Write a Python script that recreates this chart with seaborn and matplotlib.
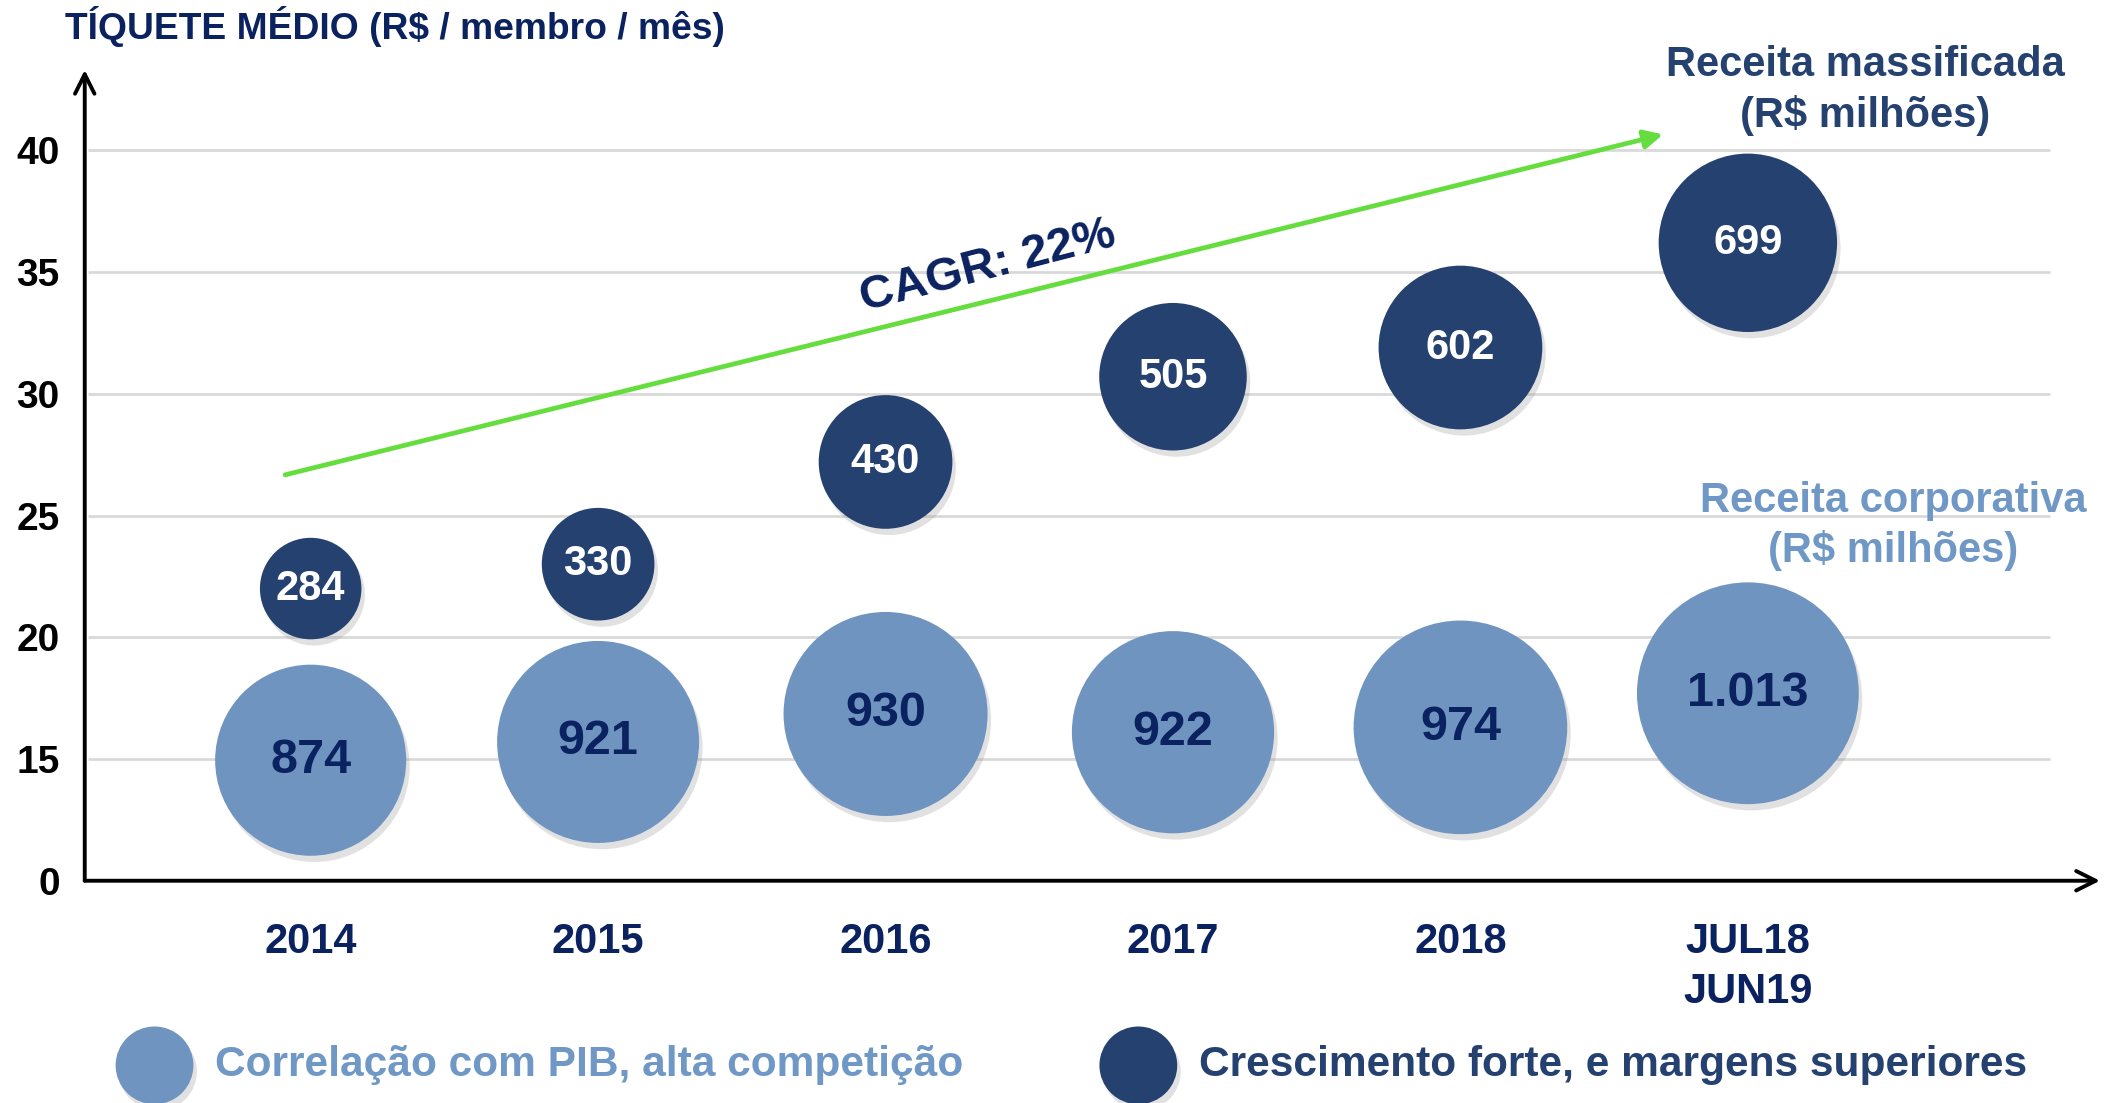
import matplotlib
matplotlib.use("Agg")
import matplotlib.pyplot as plt
import matplotlib.patheffects as pe
import seaborn as sns
import pandas as pd

# ---------------- data ----------------
periods = ["2014", "2015", "2016", "2017", "2018", "JUL18\nJUN19"]
massificada_receita = [284, 330, 430, 505, 602, 699]
massificada_ticket = [22.0, 23.0, 27.2, 30.7, 31.9, 36.2]
massificada_labels = ["284", "330", "430", "505", "602", "699"]
corporativa_receita = [874, 921, 930, 922, 974, 1013]
corporativa_ticket = [14.95, 15.7, 16.85, 16.1, 16.3, 17.7]
corporativa_labels = ["874", "921", "930", "922", "974", "1.013"]
y_grid_values = [15, 20, 25, 30, 35, 40]
y_tick_labels = ["0", "15", "20", "25", "30", "35", "40"]
axis_base = 10  # broken axis: bottom line is labelled "0"
cagr_text = "CAGR: 22%"
title_text = "TÍQUETE MÉDIO (R$ / membro / mês)"
massificada_title = "Receita massificada\n(R$ milhões)"
corporativa_title = "Receita corporativa\n(R$ milhões)"
legend_corporativa = "Correlação com PIB, alta competição"
legend_massificada = "Crescimento forte, e margens superiores"

# ---------------- style ----------------
DARK = "#254170"
LIGHT = "#6F94C0"
NAVY = "#0B2260"
GREEN = "#66DD3F"
GRID = "#D9D9D9"

sns.set_theme(style="white")
plt.rcParams["font.family"] = ["Liberation Sans", "DejaVu Sans"]
plt.rcParams["font.weight"] = "bold"

fig = plt.figure(figsize=(21.08, 11.03), dpi=100)
ax = fig.add_axes([0.0402, 0.2015, 0.9560, 0.7351])
ax.set_xlim(-0.786, 6.225)
ax.set_ylim(axis_base, 43.3)
for s in ax.spines.values():
    s.set_visible(False)

shadow = [pe.SimplePatchShadow(offset=(2.5, -4.5), shadow_rgbFace="#8a8a8a", alpha=0.25), pe.Normal()]

# grid lines
ax.hlines(y_grid_values, -0.776, 6.052, color=GRID, lw=2.0, zorder=0)

# axes arrows
ax.annotate("", xy=(0, 1), xytext=(0, 0), xycoords="axes fraction",
            arrowprops=dict(arrowstyle="->", lw=2.8, color="black", mutation_scale=35,
                            shrinkA=0, shrinkB=0), zorder=5)
ax.annotate("", xy=(1, 0), xytext=(0, 0), xycoords="axes fraction",
            arrowprops=dict(arrowstyle="->", lw=2.8, color="black", mutation_scale=35,
                            shrinkA=0, shrinkB=0), zorder=5)

x_pos = list(range(len(periods)))
df_m = pd.DataFrame({"x": x_pos, "y": massificada_ticket, "receita": massificada_receita})
df_c = pd.DataFrame({"x": x_pos, "y": corporativa_ticket, "receita": corporativa_receita})

sns.scatterplot(data=df_c, x="x", y="y", size="receita", sizes=(18927, 25500),
                size_norm=(min(corporativa_receita), max(corporativa_receita)),
                color=LIGHT, linewidth=0, legend=False, ax=ax, zorder=3)
sns.scatterplot(data=df_m, x="x", y="y", size="receita", sizes=(5342, 16500),
                size_norm=(min(massificada_receita), max(massificada_receita)),
                color=DARK, linewidth=0, legend=False, ax=ax, zorder=3)
for coll in ax.collections:
    coll.set_path_effects(shadow)

for x, y, t in zip(x_pos, massificada_ticket, massificada_labels):
    ax.text(x, y, t, ha="center", va="center", fontsize=30, fontweight="bold",
            color="white", zorder=4)
for x, y, t in zip(x_pos, corporativa_ticket, corporativa_labels):
    ax.text(x, y, t, ha="center", va="center", fontsize=35, fontweight="bold",
            color=NAVY, zorder=4)

# CAGR arrow and label
ax.annotate("", xy=(4.705, 40.65), xytext=(-0.089, 26.67),
            arrowprops=dict(arrowstyle="-|>", color=GREEN, lw=3.4, mutation_scale=28,
                            shrinkA=0, shrinkB=0), zorder=2)
ax.text(2.357, 35.24, cagr_text, rotation=14.5, rotation_mode="anchor",
        ha="center", va="center", fontsize=34, fontweight="bold", color=NAVY)

# ticks
ax.set_xticks(x_pos)
ax.set_xticklabels(periods, fontsize=30, fontweight="bold", color=NAVY, linespacing=1.3)
ax.set_yticks([axis_base] + y_grid_values)
ax.set_yticklabels(y_tick_labels, fontsize=28, fontweight="bold", color="black")
ax.tick_params(axis="x", length=0, pad=30)
ax.tick_params(axis="y", length=0, pad=18)
ax.set_xlabel("")
ax.set_ylabel("")

# titles
fig.text(0.0306, 0.9756, title_text, ha="left", va="center", fontsize=26.8,
         fontweight="bold", color=NAVY)
fig.text(0.885, 0.918, massificada_title, ha="center", va="center", fontsize=30,
         fontweight="bold", color=DARK, linespacing=1.3)
fig.text(0.898, 0.523, corporativa_title, ha="center", va="center", fontsize=30,
         fontweight="bold", color="#7098C6", linespacing=1.3)

# legend
lc = ax.scatter([0.0733], [0.0341], s=3136, color=LIGHT, transform=fig.transFigure,
                clip_on=False, linewidth=0, zorder=3)
dc = ax.scatter([0.540], [0.0341], s=3136, color=DARK, transform=fig.transFigure,
                clip_on=False, linewidth=0, zorder=3)
lc.set_path_effects(shadow)
dc.set_path_effects(shadow)
fig.text(0.102, 0.0345, legend_corporativa, ha="left", va="center", fontsize=30.6,
         fontweight="bold", color="#7098C6")
fig.text(0.569, 0.0345, legend_massificada, ha="left", va="center", fontsize=30.6,
         fontweight="bold", color=DARK)

fig.savefig("out.png", dpi=100)
